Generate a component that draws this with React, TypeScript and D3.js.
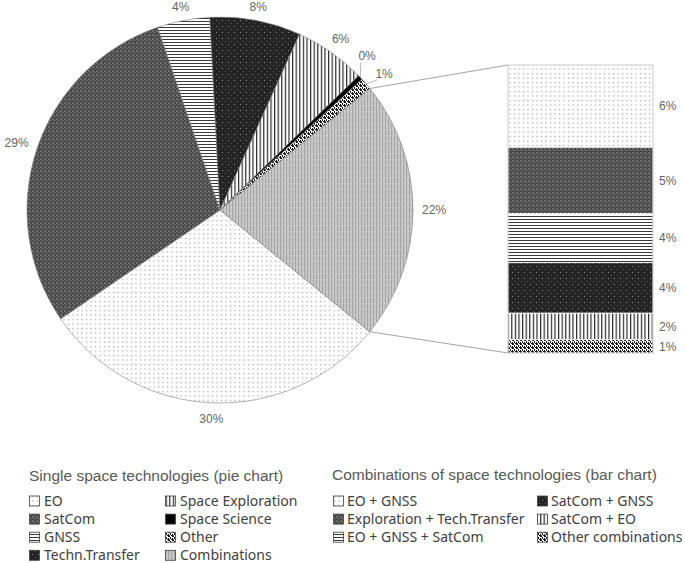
import React from "react";
import * as d3 from "d3";

const pieLabels = ["EO", "SatCom", "GNSS", "Techn.Transfer", "Space Exploration", "Space Science", "Other", "Combinations"];
const pieValues = [29.6, 29.3, 4.4, 7.6, 6.0, 0.4, 1.0, 21.7];
const piePatterns = ["pEO", "pSat", "pGnss", "pTT", "pSE", "pSS", "pOther", "pComb"];

const barLabels = ["EO + GNSS", "Exploration + Tech.Transfer", "EO + GNSS + SatCom", "SatCom + GNSS", "SatCom + EO", "Other combinations"];
const barValues = [6.2, 5.0, 3.7, 3.8, 2.0, 1.0];
const barPatterns = ["pEO", "pSat", "pGnss", "pTT", "pSE", "pOther"];

const pieTitle = "Single space technologies (pie chart)";
const barTitle = "Combinations of space technologies (bar chart)";

// label angle shifts (deg) for crowded tiny slices
const labelShift = [0, 0, 0, 0, 0, -3, 1.2, 0];

const W = 685, H = 563;
const cx = 220, cy = 210, R = 193;
const START = (129.1 * Math.PI) / 180;
const barX = 508, barW = 145, barTop = 65, barBottom = 353;
const labelColor = "#666";

function Patterns() {
  return (
    <defs>
      <pattern id="pEO" patternUnits="userSpaceOnUse" width="4.5" height="4.5">
        <rect width="4.5" height="4.5" fill="#fff" />
        <rect x="1" y="1" width="1.1" height="1.1" fill="#8c8c8c" />
      </pattern>
      <pattern id="pSat" patternUnits="userSpaceOnUse" width="4" height="4">
        <rect width="4" height="4" fill="#4a4a4a" />
        <rect x="0" y="0" width="2" height="2" fill="#6e6e6e" />
        <rect x="2" y="2" width="1" height="1" fill="#8a8a8a" />
      </pattern>
      <pattern id="pGnss" patternUnits="userSpaceOnUse" width="3" height="3">
        <rect width="3" height="3" fill="#fff" />
        <rect x="0" y="0" width="3" height="1" fill="#3a3a3a" />
      </pattern>
      <pattern id="pTT" patternUnits="userSpaceOnUse" width="6" height="6">
        <rect width="6" height="6" fill="#242424" />
        <rect x="2" y="2" width="1" height="1" fill="#8a8a8a" />
        <rect x="5" y="5" width="1" height="1" fill="#5a5a5a" />
      </pattern>
      <pattern id="pSE" patternUnits="userSpaceOnUse" width="3.6" height="3.6">
        <rect width="3.6" height="3.6" fill="#fff" />
        <rect x="0" y="0" width="1.2" height="3.6" fill="#2a2a2a" />
      </pattern>
      <pattern id="pSS" patternUnits="userSpaceOnUse" width="4" height="4">
        <rect width="4" height="4" fill="#000" />
      </pattern>
      <pattern id="pOther" patternUnits="userSpaceOnUse" width="4" height="4">
        <rect width="4" height="4" fill="#fff" />
        <rect x="0" y="0" width="2" height="1" fill="#111" />
        <rect x="2" y="1" width="1" height="2" fill="#111" />
        <rect x="0" y="2" width="1" height="2" fill="#111" />
        <rect x="3" y="3" width="1" height="1" fill="#111" />
        <rect x="1" y="3" width="1" height="1" fill="#444" />
      </pattern>
      <pattern id="pComb" patternUnits="userSpaceOnUse" width="3" height="6">
        <rect width="3" height="6" fill="#c6c6c6" />
        <rect x="0" y="0" width="1" height="6" fill="#a5a5a5" />
        <rect x="2" y="3" width="1" height="1" fill="#dedede" />
      </pattern>
    </defs>
  );
}

export default function App() {
  const pie = d3.pie<number>().sort(null).value((d) => d).startAngle(START).endAngle(START + 2 * Math.PI);
  const arcs = pie(pieValues);
  const arcGen = d3.arc<d3.PieArcDatum<number>>().innerRadius(0).outerRadius(R);

  const pt = (a: number, r: number) => [cx + r * Math.sin(a), cy - r * Math.cos(a)];

  const total = d3.sum(barValues);
  const y = d3.scaleLinear().domain([0, total]).range([barTop, barBottom]);
  const cum = barValues.map((_, i) => d3.sum(barValues.slice(0, i)));

  const combArc = arcs[arcs.length - 1];
  const [t1x, t1y] = pt(combArc.startAngle, R);
  const [t2x, t2y] = pt(combArc.endAngle, R);

  const fontA = "'Liberation Sans', Arial, sans-serif";
  const fontB = "'Noto Sans', sans-serif";

  const pieRows = 4, barRows = 3;
  const rowY = (i: number) => 501 + i * 18.1;

  return (
    <svg width={W} height={H} style={{ position: "absolute", left: 0, top: 0, background: "#fff" }}>
      <Patterns />
      {/* connector lines */}
      <line x1={t1x} y1={t1y} x2={barX} y2={barTop} stroke="#a6a6a6" strokeWidth={1} />
      <line x1={t2x} y1={t2y} x2={barX} y2={barBottom} stroke="#a6a6a6" strokeWidth={1} />
      {/* pie */}
      <g transform={`translate(${cx},${cy})`}>
        {arcs.map((a, i) => (
          <path key={i} d={arcGen(a) || ""} fill={`url(#${piePatterns[i]})`} stroke="#7f7f7f" strokeWidth={0.6} />
        ))}
      </g>
      {/* pie labels */}
      {arcs.map((a, i) => {
        const mid = (a.startAngle + a.endAngle) / 2;
        const text = Math.round(pieValues[i]) + "%";
        const w = text.length * 6.7 + 4;
        const small = labelShift[i] !== 0;
        if (small) {
          const la = mid + (labelShift[i] * Math.PI) / 180;
          const [lx, ly] = pt(la, R + 20);
          const [ex, ey] = pt(mid, R);
          const [sx, sy] = pt(la, R + 11);
          return (
            <g key={i}>
              <line x1={ex} y1={ey} x2={sx} y2={sy} stroke="#a6a6a6" strokeWidth={0.8} />
              <text x={lx} y={ly} dy="0.35em" textAnchor="middle" fontFamily={fontA} fontSize={12} fill={labelColor}>{text}</text>
            </g>
          );
        }
        const c = Math.cos(mid);
        const d = 9 + Math.abs(Math.sin(mid)) * (w / 2) + (c > 0 ? c * 3 : -c * 6);
        const [lx, ly] = pt(mid, R + d);
        return (
          <text key={i} x={lx} y={ly} dy="0.35em" textAnchor="middle" fontFamily={fontA} fontSize={12} fill={labelColor}>{text}</text>
        );
      })}
      {/* bar */}
      {barValues.map((v, i) => (
        <g key={i}>
          <rect x={barX} y={y(cum[i])} width={barW} height={y(cum[i] + v) - y(cum[i])} fill={`url(#${barPatterns[i]})`} stroke="#fff" strokeWidth={0.8} />
          <text x={barX + barW + 6} y={(y(cum[i]) + y(cum[i] + v)) / 2} dy="0.35em" fontFamily={fontA} fontSize={12} fill={labelColor}>
            {Math.round(v) + "%"}
          </text>
        </g>
      ))}
      <rect x={barX} y={barTop} width={barW} height={barBottom - barTop} fill="none" stroke="#bfbfbf" strokeWidth={0.8} />
      {/* legends */}
      <text x={29} y={476} dy="0.35em" fontFamily={fontA} fontSize={15.5} fill="#595959">{pieTitle}</text>
      {pieLabels.map((l, i) => {
        const col = Math.floor(i / pieRows), row = i % pieRows;
        const sx = col === 0 ? 29 : 165;
        return (
          <g key={l}>
            <rect x={sx + 0.5} y={rowY(row) - 5} width={10} height={10} fill={`url(#${piePatterns[i]})`} stroke="#404040" strokeWidth={0.8} />
            <text x={sx + 15} y={rowY(row)} dy="0.35em" fontFamily={fontB} fontSize={14} fill="#404040">{l}</text>
          </g>
        );
      })}
      <text x={332} y={475} dy="0.35em" fontFamily={fontA} fontSize={15.5} fill="#595959">{barTitle}</text>
      {barLabels.map((l, i) => {
        const col = Math.floor(i / barRows), row = i % barRows;
        const sx = col === 0 ? 333 : 537;
        return (
          <g key={l}>
            <rect x={sx + 0.5} y={rowY(row) - 5} width={10} height={10} fill={`url(#${barPatterns[i]})`} stroke="#404040" strokeWidth={0.8} />
            <text x={sx + 14} y={rowY(row)} dy="0.35em" fontFamily={fontB} fontSize={14} fill="#404040">{l}</text>
          </g>
        );
      })}
    </svg>
  );
}
